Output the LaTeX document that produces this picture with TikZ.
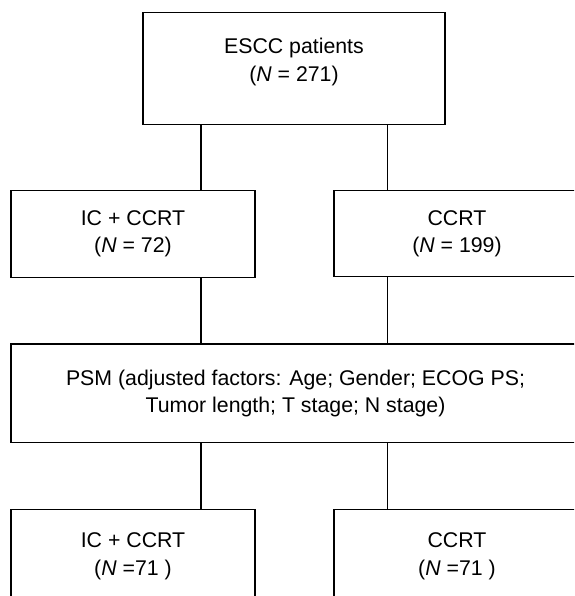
\documentclass[tikz,border=0pt]{standalone}
\usepackage{fontspec}
\setmainfont{Liberation Sans}
\usetikzlibrary{positioning}

\tikzset{box/.style={draw, rectangle, align=center, inner sep=0pt,
    font=\fontsize{21.3}{27.3}\selectfont}}

\begin{document}
\begin{tikzpicture}[x=1pt, y=1pt, on grid, line width=1.2pt]
       \useasboundingbox (0,0) rectangle (574,-596);
       \clip (0,0) rectangle (574,-596);

       \coordinate (lx) at (201,0);
       \coordinate (rx) at (387.5,0);

       \node[box, minimum width=302pt, minimum height=112pt, text depth=17pt] (ESCC) at (294,-68.3) {ESCC patients\\(\textit{N} = 271)};
       \node[box, minimum width=244pt, minimum height=86.6pt, below left=165.7pt and 161pt of ESCC] (IC_CCRT) {IC + CCRT\\(\textit{N} = 72)};
       \node[box, minimum width=246pt, minimum height=86pt, below right=165.3pt and 163pt of ESCC] (CCRT) {CCRT\\(\textit{N} = 199)};
       \path[draw] (ESCC.south -| lx) -- (IC_CCRT.north -| lx);
       \path[draw] (ESCC.south -| rx) -- (CCRT.north -| rx);

       \node[box, minimum width=569pt, minimum height=98.7pt] (PSM) at (295.5,-393.3) {PSM (adjusted factors: Age; Gender; ECOG PS;\\Tumor length; T stage; N stage)};
       \path[draw] (IC_CCRT.south -| lx) -- (PSM.north -| lx);
       \path[draw] (CCRT.south -| rx) -- (PSM.north -| rx);

       % matched groups
       \node[box, minimum width=244pt, minimum height=94pt, below=322.3pt of IC_CCRT] (IC_CCRT_PSM) {IC + CCRT\\(\textit{N} =71 )};
       \node[box, minimum width=246pt, minimum height=94pt, below=322.8pt of CCRT] (CCRT_PSM) {CCRT\\(\textit{N} =71 )};
       \path[draw] (PSM.south -| lx) -- (IC_CCRT_PSM.north -| lx);
       \path[draw] (PSM.south -| rx) -- (CCRT_PSM.north -| rx);

\end{tikzpicture}
\end{document}
